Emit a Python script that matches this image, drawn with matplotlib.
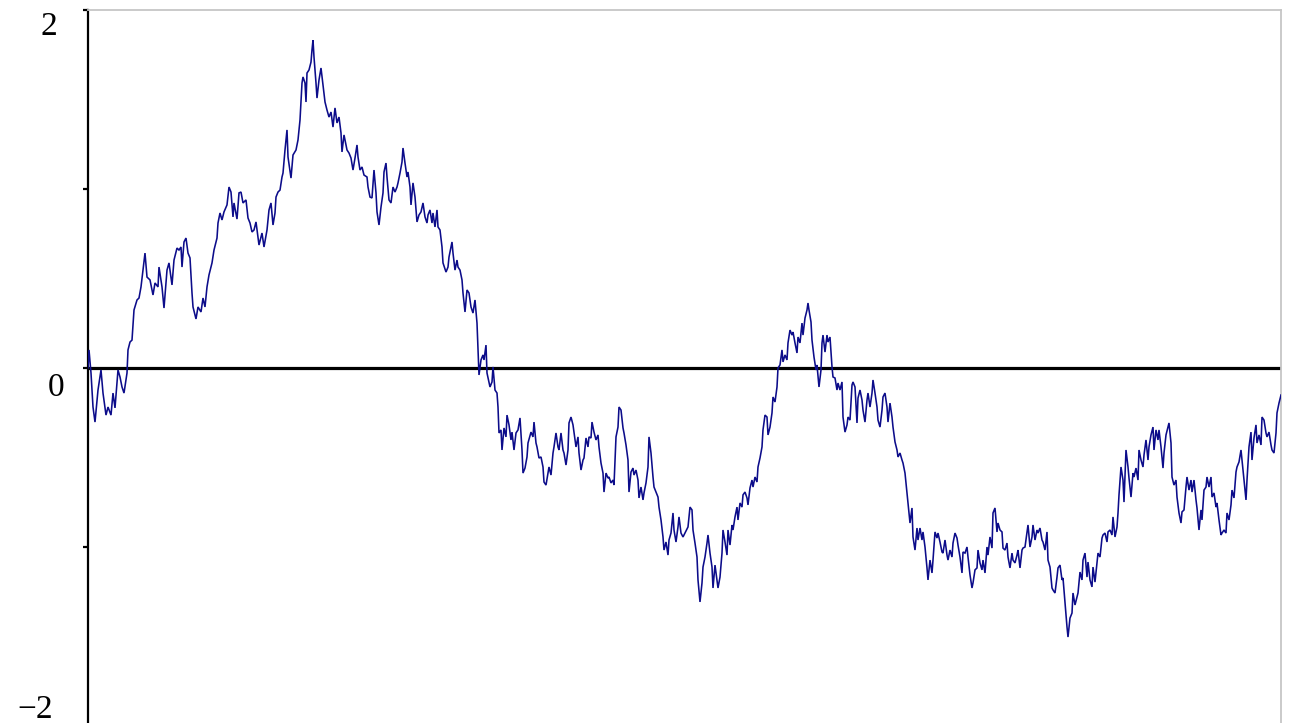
import matplotlib
matplotlib.use("Agg")
import matplotlib.pyplot as plt
import numpy as np

# Sample path of a random walk: step index and value W(t)
n_steps = 1193

steps = [
    0, 1, 3, 5, 7, 10, 13, 15, 18, 20, 23, 25, 27, 30, 32, 34, 36, 39, 40, 42,
    44, 46, 49, 51, 53, 55, 57, 59, 62, 65, 67, 70, 71, 74, 76, 79, 81, 84, 86, 89,
    91, 93, 94, 96, 98, 100, 102, 104, 105, 108, 110, 113, 115, 117, 119, 121, 124, 126, 129, 130,
    132, 134, 136, 139, 141, 143, 145, 146, 149, 151, 153, 155, 158, 160, 162, 164, 166, 168, 170, 171,
    174, 176, 179, 181, 183, 185, 187,
    188, 190, 192, 194, 195, 197, 199, 200, 203, 205, 208, 210, 212, 214, 215, 217, 218, 219, 221, 223,
    224, 225, 226, 228, 229, 231, 233, 235, 237, 239, 241, 243, 245, 247, 249, 251, 253, 254, 256, 259,
    261, 263, 265, 267, 269, 270, 272, 274, 276, 279, 280, 282, 284, 286, 288, 289, 291, 293, 295, 296,
    298, 299, 301, 303, 305, 307, 309, 310, 312, 314, 315, 317, 319, 320, 322, 323, 325, 327, 329, 331,
    333, 335, 337, 339, 340, 342, 344, 345, 347, 349, 350, 352, 354, 355, 358, 360, 361, 364, 365, 367,
    369, 370, 372, 374, 375, 377, 379, 381, 383, 385, 387, 389, 390, 391, 393, 395, 396, 398, 399,
    402, 404, 405, 407, 409, 410, 411, 413, 414, 416, 418, 419, 421, 423, 424, 426, 428, 430, 432, 434,
    435, 437, 439, 440, 443, 445, 446, 448, 449, 451, 453, 455, 456, 458, 460, 461, 463, 465, 466, 468,
    470, 471, 473, 475, 476, 478, 480, 481, 483, 485, 486, 488, 490, 491, 493, 495, 496, 498, 500, 501,
    503, 504, 506, 508, 510, 511, 513, 515, 516, 518, 520, 521, 523, 525, 526, 528, 530, 531, 533, 535,
    536, 538, 540, 541, 543, 545, 546, 548, 550, 551, 553, 555, 556, 558, 560, 561, 563, 565, 566, 568,
    570, 571, 573, 575, 576, 578, 580, 581, 583, 585, 586, 588, 590, 591, 593, 595,
    597, 600, 602, 604, 605, 607, 609, 610, 612, 614, 615, 617, 619, 620, 622, 624, 625, 627, 629, 630,
    632, 634, 635, 637, 639, 640, 642, 644, 645, 647, 649, 650, 652, 654, 655, 657, 659, 660, 662, 664,
    665, 667, 669, 670, 672, 674, 675, 677, 679, 680, 682, 684, 685, 687, 689, 690, 692, 694, 695, 697,
    699, 700, 702, 704, 705, 707, 709, 710, 712, 714, 715, 717, 719, 720, 721, 723, 724, 726, 728, 729,
    731, 733, 734, 735, 737, 739, 740, 742, 744, 745, 747, 749, 750, 752, 754, 755, 757, 759, 760, 762,
    764, 765, 767, 769, 770, 772, 774, 775, 777, 779, 780, 782, 784, 785, 787, 789, 790, 792, 794, 795,
    797, 799, 800, 802, 804, 805, 807, 809, 810, 812, 814, 815, 817, 819, 820, 822, 824, 825, 827, 829,
    830, 832, 834, 835, 837, 839, 840, 842, 844, 845, 847, 849, 850, 852, 854, 855, 857, 859, 860, 862,
    864, 865, 867, 869, 870, 872, 874, 875, 877, 879, 880, 882, 884, 885, 887, 889, 890, 892, 894, 895,
    897, 899, 900, 902, 904, 905, 907, 909, 910, 912, 914, 915, 917, 919, 920, 922, 924, 925, 927, 929,
    930, 932, 934, 935, 937, 939, 940, 942, 944, 945, 947, 949, 950, 952, 954, 955, 957, 959, 960, 962,
    964, 965, 967, 969, 970, 972, 974, 975, 977, 979, 980, 982, 984, 985, 987, 989, 990, 992, 994, 995,
    997, 999, 1000, 1002, 1004, 1005, 1007, 1009, 1010, 1012, 1014, 1015, 1017, 1019, 1020, 1022, 1024, 1025, 1027, 1029,
    1030, 1031, 1033, 1035, 1036, 1038, 1040, 1041, 1043, 1045, 1046, 1048, 1050, 1051, 1053, 1055, 1056, 1058, 1060, 1061,
    1063, 1065, 1066, 1068, 1070, 1071, 1073, 1075, 1076, 1078, 1080, 1081, 1083, 1084, 1086, 1088, 1089, 1091, 1093, 1094,
    1096, 1098, 1099, 1101, 1103, 1104, 1106, 1108, 1109, 1111, 1113, 1114, 1116, 1118, 1119, 1121, 1123, 1124, 1126, 1128,
    1129, 1131, 1133, 1134, 1136, 1138, 1139, 1141, 1143, 1144, 1146, 1148, 1149, 1151, 1153, 1154, 1156, 1158, 1159, 1161,
    1163, 1164, 1166, 1168, 1169, 1171, 1173, 1174, 1176, 1178, 1179, 1181, 1183, 1184, 1186, 1188, 1189, 1191, 1193,
]

values = [
    0.000, 0.101, -0.028, -0.218, -0.302, -0.123, -0.011, -0.140, -0.263, -0.218, -0.263, -0.140, -0.223, -0.011, -0.050, -0.106, -0.140, -0.028, 0.101, 0.145,
    0.156, 0.324, 0.380, 0.391, 0.453, 0.547, 0.642, 0.508, 0.492, 0.408, 0.475, 0.453, 0.564, 0.453, 0.335, 0.547, 0.587, 0.464, 0.603, 0.670,
    0.659, 0.676, 0.564, 0.704, 0.726, 0.642, 0.615, 0.419, 0.341, 0.274, 0.341, 0.313, 0.391, 0.341, 0.453, 0.520, 0.587, 0.659, 0.726, 0.810,
    0.866, 0.827, 0.872, 0.911, 1.011, 0.983, 0.844, 0.922, 0.832, 0.978, 0.983, 0.922, 0.939, 0.838, 0.810, 0.760, 0.771, 0.816, 0.732, 0.687,
    0.754, 0.676, 0.771, 0.883, 0.922, 0.799, 0.866,
    0.955, 0.983, 0.994, 1.067, 1.089, 1.218, 1.330, 1.179, 1.061, 1.190, 1.218, 1.274, 1.385, 1.592, 1.626, 1.592, 1.486, 1.648, 1.665, 1.709,
    1.777, 1.832, 1.737, 1.592, 1.508, 1.609, 1.676, 1.581, 1.486, 1.441, 1.402, 1.430, 1.346, 1.453, 1.369, 1.402, 1.313, 1.207, 1.302, 1.218,
    1.201, 1.173, 1.106, 1.173, 1.246, 1.179, 1.106, 1.123, 1.078, 1.067, 1.011, 0.955, 0.950, 1.106, 0.978, 0.872, 0.799, 0.899, 0.978, 1.095,
    1.145, 1.067, 0.939, 0.922, 1.011, 0.983, 1.011, 1.034, 1.089, 1.151, 1.229, 1.145, 1.067, 1.095, 1.011, 0.911, 1.034, 0.955, 0.816, 0.855,
    0.872, 0.922, 0.844, 0.810, 0.855, 0.883, 0.810, 0.866, 0.788, 0.883, 0.788, 0.771, 0.676, 0.587, 0.536, 0.564, 0.620, 0.704, 0.642, 0.547,
    0.603, 0.564, 0.547, 0.492, 0.419, 0.313, 0.436, 0.419, 0.341, 0.307, 0.380, 0.251, 0.101, -0.039, 0.045, 0.073, 0.045, 0.128, -0.028,
    -0.106, -0.078, 0.006, -0.123, -0.140, -0.218, -0.363, -0.346, -0.458, -0.335, -0.385, -0.263, -0.318, -0.402, -0.358, -0.458, -0.363, -0.346, -0.279, -0.458,
    -0.587, -0.559, -0.497, -0.419, -0.358, -0.385, -0.302, -0.419, -0.441, -0.503, -0.497, -0.553, -0.637, -0.654, -0.587, -0.553, -0.598, -0.475, -0.441, -0.363,
    -0.441, -0.458, -0.363, -0.458, -0.475, -0.542, -0.458, -0.307, -0.274, -0.318, -0.358, -0.441, -0.385, -0.475, -0.570, -0.514, -0.503, -0.391, -0.441, -0.385,
    -0.391, -0.302, -0.358, -0.402, -0.374, -0.441, -0.531, -0.587, -0.693, -0.587, -0.615, -0.609, -0.642, -0.626, -0.654, -0.385, -0.330, -0.218, -0.235, -0.335,
    -0.363, -0.430, -0.514, -0.693, -0.581, -0.559, -0.598, -0.570, -0.626, -0.726, -0.665, -0.737, -0.698, -0.642, -0.553, -0.385, -0.475, -0.609, -0.665, -0.693,
    -0.721, -0.777, -0.849, -0.944, -1.017, -0.972, -1.045, -0.961, -0.922, -0.810, -0.905, -0.972, -0.888, -0.832, -0.922, -0.944,
    -0.922, -0.888, -0.777, -0.793, -0.905, -0.978, -1.056, -1.184, -1.307, -1.201, -1.112, -1.056, -0.978, -0.933, -1.034, -1.112, -1.229, -1.101, -1.184, -1.229,
    -1.168, -1.034, -0.905, -0.972, -1.045, -0.905, -0.989, -0.877, -0.905, -0.832, -0.777, -0.849, -0.754, -0.777, -0.709, -0.693, -0.726, -0.765, -0.670, -0.626,
    -0.665, -0.609, -0.637, -0.553, -0.503, -0.441, -0.346, -0.263, -0.274, -0.374, -0.330, -0.251, -0.162, -0.190, -0.106, 0.000, 0.017, 0.101, 0.034, 0.073,
    0.045, 0.140, 0.212, 0.184, 0.201, 0.140, 0.084, 0.173, 0.140, 0.251, 0.184, 0.279, 0.324, 0.363, 0.324, 0.257, 0.156, 0.061, -0.011, 0.017,
    -0.106, -0.011, 0.140, 0.184, 0.089, 0.184, 0.145, 0.173, 0.006, -0.050, -0.056, -0.123, -0.084, -0.123, -0.078, -0.274, -0.358, -0.318, -0.274, -0.291,
    -0.095, -0.078, -0.106, -0.307, -0.168, -0.123, -0.179, -0.235, -0.302, -0.179, -0.140, -0.218, -0.140, -0.067, -0.140, -0.218, -0.291, -0.330, -0.235, -0.162,
    -0.140, -0.218, -0.302, -0.196, -0.274, -0.330, -0.413, -0.458, -0.497, -0.475, -0.514, -0.531, -0.587, -0.698, -0.754, -0.866, -0.782, -0.944, -1.017, -0.894,
    -0.961, -0.894, -0.961, -0.916, -1.000, -1.117, -1.184, -1.073, -1.145, -1.073, -0.916, -0.950, -0.922, -0.972, -1.028, -1.034, -0.961, -1.045, -1.073, -1.017,
    -1.056, -0.978, -0.922, -0.950, -0.989, -1.056, -1.145, -1.028, -1.034, -1.000, -1.056, -1.156, -1.229, -1.201, -1.128, -1.117, -1.017, -1.089, -1.128, -1.073,
    -1.145, -1.000, -1.045, -0.944, -1.006, -0.810, -0.782, -0.916, -0.866, -0.905, -0.916, -1.006, -1.017, -0.978, -1.056, -1.117, -1.034, -1.073, -1.089, -1.045,
    -1.017, -1.117, -1.017, -1.006, -1.000, -0.916, -0.877, -1.000, -0.944, -0.877, -0.961, -0.905, -0.922, -0.894, -0.961, -0.972, -1.017, -0.916, -1.073, -1.112,
    -1.229, -1.240, -1.257, -1.168, -1.117, -1.101, -1.184, -1.173, -1.313, -1.447, -1.503, -1.397, -1.369, -1.257, -1.324, -1.279, -1.257, -1.140, -1.184, -1.073,
    -1.034, -1.168, -1.084, -1.184, -1.223, -1.112, -1.196, -1.084, -1.034, -1.056, -0.950, -0.933, -0.922, -0.972, -0.916, -0.905, -0.933, -0.832, -0.944, -0.888,
    -0.810, -0.709, -0.553, -0.626, -0.749, -0.458, -0.553, -0.615, -0.721, -0.587, -0.609, -0.559, -0.626, -0.458, -0.514, -0.553, -0.486, -0.402, -0.514, -0.441,
    -0.374, -0.330, -0.458, -0.346, -0.402, -0.346, -0.441, -0.559, -0.475, -0.374, -0.330, -0.307, -0.419, -0.609, -0.654, -0.626, -0.721, -0.810, -0.866, -0.804,
    -0.793, -0.665, -0.609, -0.682, -0.626, -0.693, -0.626, -0.737, -0.782, -0.905, -0.793, -0.849, -0.682, -0.665, -0.609, -0.665, -0.609, -0.721, -0.698, -0.777,
    -0.754, -0.849, -0.933, -0.922, -0.905, -0.922, -0.810, -0.849, -0.765, -0.682, -0.726, -0.581, -0.553, -0.525, -0.458, -0.514, -0.626, -0.737, -0.626, -0.441,
    -0.358, -0.514, -0.391, -0.318, -0.419, -0.374, -0.430, -0.274, -0.291, -0.363, -0.385, -0.358, -0.430, -0.458, -0.475, -0.363, -0.251, -0.196, -0.151,
]

ytick_values = [-2, -1, 0, 1, 2]
labelled_ticks = ["\u22122", "0", "2"]
labelled_values = [-2, 0, 2]

t = np.asarray(steps) / n_steps
w = np.asarray(values)

plt.rcParams["font.family"] = ["Liberation Serif", "DejaVu Serif"]

fig = plt.figure(figsize=(12.96, 7.23), dpi=100)
ax = fig.add_axes([88 / 1296, -3 / 723, 1193 / 1296, 716 / 723])

ax.plot(t, w, color="#0c0c8a", linewidth=1.15, solid_joinstyle="miter", zorder=3)
ax.axhline(0, color="black", linewidth=2.3, zorder=2)

ax.set_xlim(0, 1)
ax.set_ylim(-2, 2)

# frame: heavy black y-axis, light grey box on top and right
ax.spines["left"].set_color("black")
ax.spines["left"].set_linewidth(1.6)
for side in ("top", "right"):
    ax.spines[side].set_color("#c6c6c6")
    ax.spines[side].set_linewidth(1.3)
ax.spines["bottom"].set_visible(False)

ax.set_xticks([])
ax.set_yticks(ytick_values)
ax.set_yticklabels([])
ax.tick_params(axis="y", direction="out", length=3.5, width=1.6, color="black")

# y labels sit a little below their tick marks
label_offsets = {-2: (-38, 12), 0: (-23, -14), 2: (-28, -12)}
for txt, val in zip(labelled_ticks, labelled_values):
    dx, dy = label_offsets[val]
    ax.annotate(txt, xy=(0, val), xycoords=("axes fraction", "data"),
                xytext=(dx, dy), textcoords="offset points",
                ha="center", va="center", fontsize=24, color="black",
                annotation_clip=False)

fig.savefig("out.png", dpi=100)
